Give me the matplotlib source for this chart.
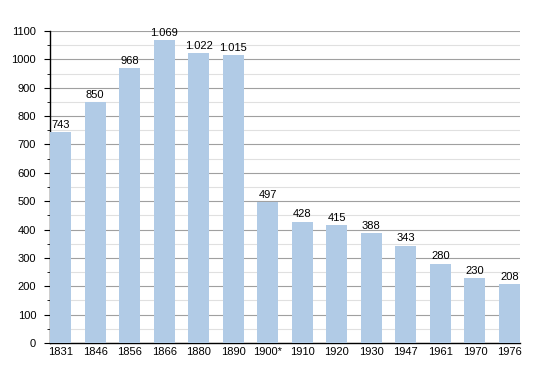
import numpy as np
import matplotlib.pyplot as plt
from matplotlib.ticker import MultipleLocator

years = ['1831', '1846', '1856', '1866', '1880', '1890', '1900*',
         '1910', '1920', '1930', '1947', '1961', '1970', '1976']
population = [743, 850, 968, 1069, 1022, 1015, 497,
              428, 415, 388, 343, 280, 230, 208]
value_labels = ['743', '850', '968', '1.069', '1.022', '1.015', '497',
                '428', '415', '388', '343', '280', '230', '208']

plt.rcParams['font.family'] = ['Liberation Sans', 'DejaVu Sans']

fig = plt.figure(figsize=(5.5, 3.73), dpi=100)
ax = fig.add_axes([0.0909, 0.0804, 0.8545, 0.8365])

width = 0.61
x = np.arange(len(years))
ax.bar(x, population, width=width, align='edge', color='#b1cbe6', zorder=3)

for xi, v, lab in zip(x, population, value_labels):
    ax.text(xi + width / 2, v + 8, lab, ha='center', va='bottom', fontsize=8, zorder=4)

ax.set_xlim(0, len(years) - 1 + width)
ax.set_ylim(0, 1100)
ax.set_xticks(x + width / 2)
ax.set_xticklabels(years, fontsize=8)
ax.tick_params(axis='x', length=0, pad=3)

ax.yaxis.set_major_locator(MultipleLocator(100))
ax.yaxis.set_minor_locator(MultipleLocator(50))
ax.tick_params(axis='y', which='major', length=4, labelsize=8, pad=6)
ax.tick_params(axis='y', which='minor', length=2)

ax.grid(axis='y', which='major', color='#a0a0a0', linewidth=0.8, zorder=0)
ax.grid(axis='y', which='minor', color='#e0e0e0', linewidth=0.8, zorder=0)

for s in ['top', 'right']:
    ax.spines[s].set_visible(False)
ax.spines['left'].set_linewidth(1.0)
ax.spines['bottom'].set_linewidth(1.0)

fig.savefig('out.png', dpi=100)
